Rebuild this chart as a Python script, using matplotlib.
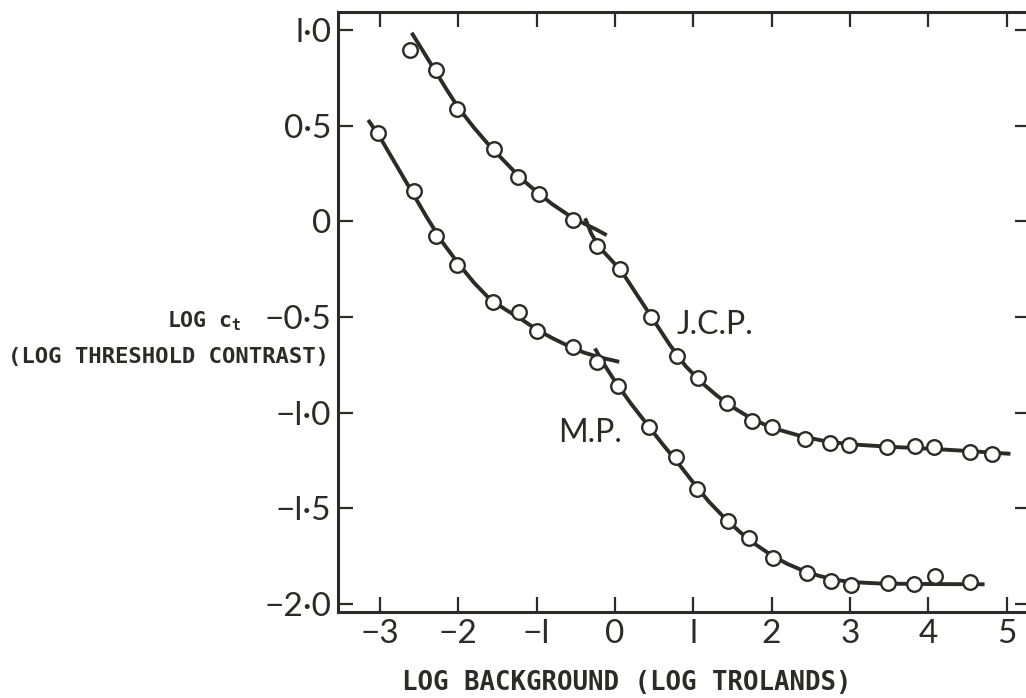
import matplotlib.pyplot as plt

# data points (log trolands, log threshold contrast)
jcp_x = [-2.62, -2.28, -2.02, -1.55, -1.24, -0.965, -0.54, -0.23, 0.06, 0.457,
         0.79, 1.06, 1.43, 1.755, 2.006, 2.43, 2.75, 2.99, 3.48, 3.83, 4.07, 4.53, 4.81]
jcp_y = [0.895, 0.79, 0.59, 0.376, 0.233, 0.141, 0.007, -0.13, -0.248, -0.499,
         -0.703, -0.817, -0.951, -1.042, -1.077, -1.138, -1.157, -1.169, -1.181, -1.175, -1.178, -1.204, -1.216]

mp_x = [-3.02, -2.57, -2.28, -2.02, -1.56, -1.22, -0.99, -0.53, -0.23, 0.045, 0.44,
        0.776, 1.05, 1.44, 1.71, 2.015, 2.45, 2.755, 3.02, 3.49, 3.82, 4.09, 4.53]
mp_y = [0.463, 0.16, -0.075, -0.228, -0.42, -0.472, -0.572, -0.655, -0.734, -0.862, -1.074,
        -1.23, -1.40, -1.565, -1.657, -1.762, -1.837, -1.879, -1.901, -1.889, -1.896, -1.854, -1.884]

# fitted curves, rod and cone branches
jcp_rod_x = [-2.595, -2.45, -2.3, -2.15, -2.0, -1.8, -1.6, -1.4, -1.2, -1.0, -0.8, -0.6, -0.4, -0.25, -0.105]
jcp_rod_y = [0.986, 0.89, 0.79, 0.69, 0.595, 0.49, 0.395, 0.31, 0.225, 0.155, 0.09, 0.035, -0.01, -0.04, -0.072]
jcp_cone_x = [-0.38, -0.3, -0.2, -0.05, 0.1, 0.3, 0.5, 0.7, 0.9, 1.1, 1.3, 1.5, 1.7, 1.9,
              2.1, 2.4, 2.7, 3.0, 3.5, 4.0, 4.5, 5.05]
jcp_cone_y = [0.016, -0.065, -0.135, -0.2, -0.27, -0.395, -0.52, -0.645, -0.755, -0.84, -0.91, -0.97, -1.02, -1.06,
              -1.09, -1.125, -1.15, -1.165, -1.178, -1.188, -1.2, -1.215]

mp_rod_x = [-3.15, -3.0, -2.8, -2.6, -2.4, -2.2, -2.0, -1.8, -1.6, -1.4, -1.2, -1.0, -0.8, -0.6, -0.4, -0.2, 0.055]
mp_rod_y = [0.53, 0.44, 0.3, 0.16, 0.02, -0.11, -0.22, -0.32, -0.405, -0.46, -0.51, -0.565, -0.61, -0.65, -0.685, -0.71, -0.734]
mp_cone_x = [-0.255, -0.15, 0.0, 0.2, 0.4, 0.6, 0.8, 1.0, 1.2, 1.4, 1.6, 1.8, 2.0, 2.2,
             2.4, 2.6, 2.8, 3.0, 3.4, 3.8, 4.2, 4.72]
mp_cone_y = [-0.664, -0.74, -0.835, -0.95, -1.055, -1.16, -1.26, -1.365, -1.465, -1.55, -1.625, -1.69, -1.745, -1.79,
             -1.825, -1.852, -1.872, -1.885, -1.893, -1.895, -1.896, -1.897]

xticks = [-3, -2, -1, 0, 1, 2, 3, 4, 5]
xticklabels = ['\u22123', '\u22122', '\u2212l', '0', 'l', '2', '3', '4', '5']
yticks = [1.0, 0.5, 0.0, -0.5, -1.0, -1.5, -2.0]
yticklabels = ['l\u00b70', '0\u00b75', '0', '\u22120\u00b75', '\u2212l\u00b70', '\u2212l\u00b75', '\u22122\u00b70']

ink = '#2b2b28'
plt.rcParams['font.family'] = ['Lato', 'DejaVu Sans']
plt.rcParams['mathtext.fontset'] = 'custom'
plt.rcParams['mathtext.tt'] = 'DejaVu Sans Mono:bold'

fig = plt.figure(figsize=(10.26, 6.98), dpi=100)
ax = fig.add_axes([0.3294, 0.1237, 0.6745, 0.8598])

for cx, cy in [(jcp_rod_x, jcp_rod_y), (jcp_cone_x, jcp_cone_y),
               (mp_rod_x, mp_rod_y), (mp_cone_x, mp_cone_y)]:
    ax.plot(cx, cy, color=ink, lw=2.8, solid_capstyle='butt', zorder=2)

for px, py in [(jcp_x, jcp_y), (mp_x, mp_y)]:
    ax.plot(px, py, 'o', ms=10.5, mfc='white', mec=ink, mew=1.7, zorder=3)

ax.set_xlim(-3.536, 5.30)
ax.set_ylim(-2.04, 1.097)
ax.set_xticks(xticks)
ax.set_xticklabels(xticklabels, fontsize=24, color=ink)
ax.set_yticks(yticks)
ax.set_yticklabels(yticklabels, fontsize=24, color=ink)
ax.tick_params(direction='in', length=11, width=1.6, color=ink, top=True, right=True)
ax.tick_params(axis='x', pad=5)
ax.tick_params(axis='y', pad=5)
for s in ax.spines.values():
    s.set_linewidth(2.2)
    s.set_color(ink)
ax.spines['right'].set_visible(False)

ax.text(1.28, -0.542, 'J.C.P.', fontsize=23, color=ink, ha='center', va='center')
ax.text(-0.32, -1.107, 'M.P.', fontsize=23, color=ink, ha='center', va='center')

mono = 'DejaVu Sans Mono'
fig.text(242 / 1026, 1 - 321 / 698, r'LOG $\mathtt{c}_\mathtt{t}$', family=mono, fontsize=15.5,
         fontweight='bold', color=ink, ha='right', va='center')
fig.text(168 / 1026, 1 - 357 / 698, '(LOG THRESHOLD CONTRAST)', family=mono, fontsize=16,
         fontweight='bold', color=ink, ha='center', va='center')
fig.text(627 / 1026, 1 - 683 / 698, 'LOG BACKGROUND (LOG TROLANDS)', family=mono, fontsize=18.5,
         fontweight='bold', color=ink, ha='center', va='center')

fig.savefig('out.png', dpi=100)
